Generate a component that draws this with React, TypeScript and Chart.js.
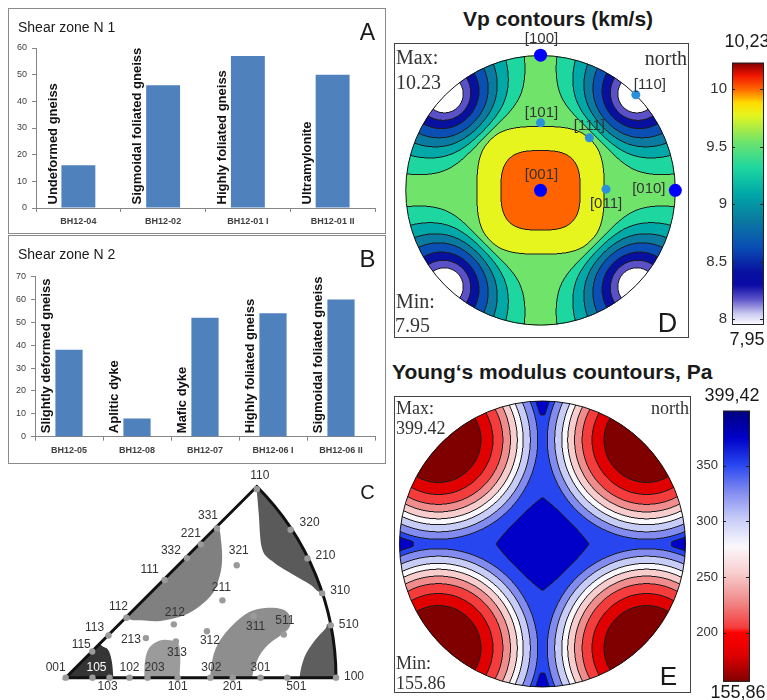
import React, { useEffect, useRef } from 'react';
import { Chart, registerables } from 'chart.js';

Chart.register(...registerables);
Chart.defaults.font.family = '"Liberation Sans", Arial, sans-serif';

// ================= DATA =================
// Panel A : shear zone N 1
const zone1Samples = ['BH12-04', 'BH12-02', 'BH12-01 I', 'BH12-01 II'];
const zone1Rocks = ['Undeformed gneiss', 'Sigmoidal foliated gneiss', 'Highly foliated gneiss', 'Ultramylonite'];
const zone1Values = [16, 46, 57, 50];
const zone1Ticks = [0, 10, 20, 30, 40, 50, 60];

// Panel B : shear zone N 2
const zone2Samples = ['BH12-05', 'BH12-08', 'BH12-07', 'BH12-06 I', 'BH12-06 II'];
const zone2Rocks = ['Slightly deformed gneiss', 'Aplitic dyke', 'Mafic dyke', 'Highly foliated gneiss', 'Sigmoidal foliated gneiss'];
const zone2Values = [38, 8, 52, 54, 60];
const zone2Ticks = [0, 10, 20, 30, 40, 50, 60, 70];

// Panel C : inverse pole figure (Miller indices, stereographic)
const ipfIndices = ['001', '105', '103', '102', '203', '101', '302', '201', '301', '501', '100',
  '115', '113', '112', '111', '332', '221', '331', '110', '320', '210', '310', '510',
  '321', '211', '212', '213', '313', '312', '311', '511'];
// shaded density domains, outlines in projection units (clipped to the triangle)
const ipfBlob001 = [[-0.083, -0.069], [-0.083, 0.185], [0.062, 0.239], [0.124, 0.130], [0.156, 0.106], [0.170, 0.064], [0.176, 0], [0.176, -0.069]];
const ipfBlob110 = [[0.7054, 0.7101], [0.7138, 0.6196], [0.7257, 0.4866], [0.7620, 0.4384], [0.8344, 0.3902], [0.9069, 0.3478], [0.9493, 0.3178], [1.10, 0.28], [1.10, 0.80], [0.69, 0.80]];
const ipfBlob100 = [[0.8649, 0], [0.8830, 0.0761], [0.9192, 0.1366], [0.9612, 0.1848], [0.9793, 0.2065], [1.10, 0.25], [1.10, -0.10], [0.86, -0.10]];
const ipfBlob112 = [[0.2246, 0.2246], [0.2790, 0.2149], [0.3514, 0.2127], [0.4359, 0.2330], [0.4964, 0.2692], [0.5446, 0.3178], [0.5688, 0.3779], [0.5786, 0.4384], [0.5750, 0.5109], [0.5627, 0.5652], [0.50, 0.65], [0.15, 0.30]];
const ipfBlob313 = [[0.2909, 0], [0.2935, 0.0641], [0.3091, 0.1123], [0.3453, 0.1388], [0.3877, 0.1402], [0.4178, 0.1243], [0.4239, 0.0761], [0.4214, 0], [0.42, -0.10], [0.29, -0.10]];
const ipfBlob311 = [[0.5351, 0], [0.5446, 0.0761], [0.5688, 0.1366], [0.6170, 0.1967], [0.6775, 0.2453], [0.7380, 0.2609], [0.7982, 0.2572], [0.8286, 0.2330], [0.8286, 0.1909], [0.7982, 0.1605], [0.75, 0.1243], [0.7138, 0.0761], [0.6895, 0], [0.69, -0.10], [0.535, -0.10]];

// Panel D : Vp contours (km/s)
const vpMin = 7.95;
const vpMax = 10.23;
const vpLevels = [7.95, 8.178, 8.406, 8.634, 8.862, 9.09, 9.318, 9.546, 9.774, 10.002, 10.23];
const vpCornerDelta = [0, 8, 11.5, 15.5, 20, 24.5, 30, 38, 45, 52, 60, 90];
const vpCornerValue = [7.95, 8.178, 8.406, 8.634, 8.862, 9.09, 9.318, 9.546, 9.66, 10.05, 10.4, 11.0];
const vpCenterNorm = [0, 0.294, 0.472, 0.6, 0.8, 1.0, 1.5];
const vpCenterValue = [10.23, 10.002, 9.774, 9.7, 9.67, 9.66, 9.66];
const vpPoleNames = ['[100]', '[010]', '[001]', '[110]', '[101]', '[111]', '[011]'];
const vpPoleR = [1, 1, 0, 1, 0.5, 0.531, 0.486];
const vpPoleAz = [0, 90, 0, 45, 0, 43, 89];
const vpBarTicks = [8, 8.5, 9, 9.5, 10];

// Panel E : Young's modulus contours
const ymMin = 155.86;
const ymMax = 399.42;
const ymLevels = [155.86, 180.22, 204.57, 228.93, 253.28, 277.64, 301.99, 326.35, 350.71, 375.06, 399.42];
const ymCornerDist = [0, 0.298, 0.382, 0.451, 0.504, 0.552, 0.593, 0.643, 0.695, 0.731, 0.777, 1.0, 1.5];
const ymCornerValue = [155.86, 180.22, 204.57, 228.93, 253.28, 277.64, 301.99, 326.35, 350.71, 375.06, 385, 420, 480];
const ymCenterNorm = [0, 0.325, 0.55, 0.75, 0.9, 1.0, 1.5];
const ymCenterValue = [399.42, 375.06, 362, 364, 375.06, 392, 430];
const ymBarTicks = [200, 250, 300, 350];

// ================= STYLE =================
const SANS = '"Liberation Sans", Arial, sans-serif';
const SERIF = '"Liberation Serif", "DejaVu Serif", serif';
const ipfBlobs = [ipfBlob001, ipfBlob110, ipfBlob100, ipfBlob112, ipfBlob313, ipfBlob311];
const ipfBlobColors = ['#353535', '#5a5a5a', '#5e5e5e', '#808080', '#9b9b9b', '#8e8e8e'];
const ipfLabelOffsets = [[-10, -10], [4, -10], [-2, 9], [0, -10], [7, -10], [0, 9], [1, -10], [0, 9], [0, -10], [9, 9], [18, -1],
  [-11, -7], [-14, -8], [-8, -11], [-15, -10], [-16, -7], [-10, -11], [-9, -13], [3, -13], [19, -7], [18, -3], [18, -3], [18, -1],
  [2, -15], [-1, -13], [1, -12], [-15, 2], [1, 11], [3, 9], [2, 11], [1, -14]];
const vpLabelOffsets = [[1, -16], [-26.5, -1.5], [1, -15], [14, -10], [1, -10], [0, -11.5], [0, 15]];

type RGB = [number, number, number];
type Stop = [number, RGB];
const vpColormap: Stop[] = [
  [7.95, [255, 255, 255]], [8.05, [200, 200, 240]], [8.178, [90, 80, 200]], [8.3, [10, 10, 165]],
  [8.406, [8, 16, 160]], [8.634, [10, 80, 180]], [8.862, [10, 122, 160]], [9.09, [0, 168, 168]],
  [9.318, [30, 215, 160]], [9.546, [112, 227, 106]], [9.774, [230, 245, 30]], [9.88, [255, 220, 0]],
  [10.002, [255, 100, 0]], [10.12, [240, 20, 0]], [10.23, [128, 0, 0]],
];
const ymColormap: Stop[] = [
  [155.86, [128, 0, 0]], [180.22, [224, 0, 0]], [200, [255, 0, 0]], [204.57, [245, 60, 60]],
  [228.93, [240, 140, 140]], [253.28, [248, 205, 205]], [277.64, [250, 248, 252]], [301.99, [200, 205, 248]],
  [326.35, [130, 140, 240]], [350.71, [40, 70, 240]], [375.06, [0, 0, 200]], [399.42, [0, 0, 128]],
];

// ================= HELPERS =================
function interp(xs: number[], ys: number[], x: number) {
  if (x <= xs[0]) return ys[0];
  for (let i = 1; i < xs.length; i++) {
    if (x <= xs[i]) return ys[i - 1] + ((ys[i] - ys[i - 1]) * (x - xs[i - 1])) / (xs[i] - xs[i - 1]);
  }
  return ys[ys.length - 1];
}
function smin(a: number, b: number, t: number) {
  return Math.min(a, b) - t * Math.log(1 + Math.exp(-Math.abs(a - b) / t));
}
function sampleCmap(stops: Stop[], v: number): RGB {
  if (v <= stops[0][0]) return stops[0][1];
  for (let i = 1; i < stops.length; i++) {
    if (v <= stops[i][0]) {
      const [v0, c0] = stops[i - 1];
      const [v1, c1] = stops[i];
      const t = (v - v0) / (v1 - v0);
      return [0, 1, 2].map((k) => Math.round(c0[k] + (c1[k] - c0[k]) * t)) as RGB;
    }
  }
  return stops[stops.length - 1][1];
}
function ipfPosition(idx: string) {
  const h = +idx[0], k = +idx[1], l = +idx[2];
  const theta = Math.atan2(Math.hypot(h, k), l);
  const r = Math.tan(theta / 2);
  const phi = Math.atan2(k, h);
  return { x: r * Math.cos(phi), y: r * Math.sin(phi) };
}
function polePosition(r: number, azDeg: number) {
  const a = (azDeg * Math.PI) / 180;
  return { x: r * Math.sin(a), y: r * Math.cos(a) };
}

// Vp field: small-circle distance to <110> minima combined with the [001] maximum
function vpField(u: number, v: number) {
  const r = Math.hypot(u, v);
  const theta = 2 * Math.atan(r);
  const s = Math.sin(theta), c = Math.cos(theta);
  const nx = r > 0 ? (s * u) / r : 0, ny = r > 0 ? (s * v) / r : 0;
  const cosd = Math.min(1, (Math.abs(nx) + Math.abs(ny)) / Math.SQRT2);
  const delta = (Math.acos(cosd) * 180) / Math.PI;
  const corner = interp(vpCornerDelta, vpCornerValue, delta) + 6.24 * Math.pow(c, 5);
  const norm = Math.pow(Math.pow(Math.abs(u), 3) + Math.pow(Math.abs(v), 3), 1 / 3);
  const center = interp(vpCenterNorm, vpCenterValue, norm);
  return smin(center, corner, 0.02);
}
// Young's modulus field
function ymField(u: number, v: number) {
  const au = Math.abs(u), av = Math.abs(v);
  const k = 1.03 / Math.SQRT2;
  const d = Math.hypot(au - k, av - k);
  const corner = interp(ymCornerDist, ymCornerValue, d);
  const norm = Math.pow(Math.pow(au, 1.1) + Math.pow(av, 1.1), 1 / 1.1);
  const center = interp(ymCenterNorm, ymCenterValue, norm);
  return smin(center, corner, 2);
}

function smoothClosed(ctx: CanvasRenderingContext2D, pts: number[][]) {
  const n = pts.length;
  ctx.moveTo(pts[0][0], pts[0][1]);
  for (let i = 0; i < n; i++) {
    const p0 = pts[(i - 1 + n) % n], p1 = pts[i], p2 = pts[(i + 1) % n], p3 = pts[(i + 2) % n];
    ctx.bezierCurveTo(
      p1[0] + (p2[0] - p0[0]) / 6, p1[1] + (p2[1] - p0[1]) / 6,
      p2[0] - (p3[0] - p1[0]) / 6, p2[1] - (p3[1] - p1[1]) / 6,
      p2[0], p2[1]);
  }
  ctx.closePath();
}

// ================= PLUGINS =================
const rockLabelPlugin = (rocks: string[]) => ({
  id: 'rockLabels',
  afterDatasetsDraw(chart: any) {
    const ctx = chart.ctx;
    const meta = chart.getDatasetMeta(0);
    ctx.save();
    ctx.font = `bold 13px ${SANS}`;
    ctx.fillStyle = '#111';
    ctx.textAlign = 'left';
    ctx.textBaseline = 'bottom';
    meta.data.forEach((bar: any, i: number) => {
      const p = bar.getProps(['x', 'width', 'base'], true);
      ctx.save();
      ctx.translate(p.x - p.width / 2 - 2, p.base - 3);
      ctx.rotate(-Math.PI / 2);
      ctx.fillText(rocks[i], 0, 0);
      ctx.restore();
    });
    ctx.restore();
  },
});

const ipfPlugin = {
  id: 'ipf',
  beforeDatasetsDraw(chart: any) {
    const ctx = chart.ctx;
    const xs = chart.scales.x, ys = chart.scales.y;
    const P = (u: number, v: number) => [xs.getPixelForValue(u), ys.getPixelForValue(v)];
    const [ox, oy] = P(0, 0);
    const R = xs.getPixelForValue(1) - ox;
    const tri = () => {
      ctx.beginPath();
      ctx.moveTo(ox, oy);
      ctx.lineTo(ox + R, oy);
      ctx.arc(ox, oy, R, 0, -Math.PI / 4, true);
      ctx.closePath();
    };
    ctx.save();
    tri();
    ctx.clip();
    ipfBlobs.forEach((blob, i) => {
      ctx.fillStyle = ipfBlobColors[i];
      ctx.beginPath();
      smoothClosed(ctx, blob.map(([u, v]) => P(u, v)));
      ctx.fill();
    });
    ctx.restore();
    ctx.save();
    tri();
    ctx.lineWidth = 3;
    ctx.strokeStyle = '#111';
    ctx.lineJoin = 'miter';
    ctx.stroke();
    ctx.restore();
  },
  afterDatasetsDraw(chart: any) {
    const ctx = chart.ctx;
    const meta = chart.getDatasetMeta(0);
    ctx.save();
    ctx.font = `12px ${SANS}`;
    ctx.textAlign = 'center';
    ctx.textBaseline = 'middle';
    meta.data.forEach((pt: any, i: number) => {
      ctx.fillStyle = ipfIndices[i] === '105' ? '#ffffff' : '#333333';
      ctx.fillText(ipfIndices[i], pt.x + ipfLabelOffsets[i][0], pt.y + ipfLabelOffsets[i][1]);
    });
    ctx.restore();
  },
};

function fieldPlugin(field: (u: number, v: number) => number, levels: number[], stops: Stop[], frameTop: number) {
  const colors = levels.slice(0, -1).map((l) => sampleCmap(stops, l));
  const lineCol: RGB = [28, 28, 28];
  return {
    id: 'field',
    beforeDatasetsDraw(chart: any) {
      const ctx = chart.ctx;
      const xs = chart.scales.x, ys = chart.scales.y;
      const cx = xs.getPixelForValue(0), cy = ys.getPixelForValue(0);
      const R = xs.getPixelForValue(1) - cx;
      const ss = 2;
      const x0 = Math.floor(cx - R) - 2, y0 = Math.floor(cy - R) - 2;
      const W = Math.ceil(2 * R) + 5;
      const N = W * ss;
      const band = new Int8Array(N * N).fill(-1);
      for (let j = 0; j < N; j++) {
        const v = ys.getValueForPixel(y0 + (j + 0.5) / ss);
        for (let i = 0; i < N; i++) {
          const u = xs.getValueForPixel(x0 + (i + 0.5) / ss);
          if (u * u + v * v > 1) continue;
          const val = field(u, v);
          let b = 0;
          while (b < levels.length - 2 && val >= levels[b + 1]) b++;
          band[j * N + i] = b;
        }
      }
      const off = document.createElement('canvas');
      off.width = W;
      off.height = W;
      const octx = off.getContext('2d')!;
      const img = octx.createImageData(W, W);
      const nb = [[1, 0], [-1, 0], [0, 1], [0, -1]];
      for (let J = 0; J < W; J++) {
        for (let I = 0; I < W; I++) {
          let r = 0, g = 0, b = 0, n = 0;
          for (let dj = 0; dj < ss; dj++) {
            for (let di = 0; di < ss; di++) {
              const i = I * ss + di, j = J * ss + dj;
              const k = band[j * N + i];
              if (k < 0) continue;
              let edge = false;
              for (let q = 0; q < 4; q++) {
                const ii = i + nb[q][0], jj = j + nb[q][1];
                if (ii < 0 || jj < 0 || ii >= N || jj >= N) continue;
                const kk = band[jj * N + ii];
                if (kk >= 0 && kk !== k) { edge = true; break; }
              }
              const col = edge ? lineCol : colors[k];
              r += col[0]; g += col[1]; b += col[2]; n++;
            }
          }
          if (n === 0) continue;
          const p = (J * W + I) * 4;
          img.data[p] = r / n;
          img.data[p + 1] = g / n;
          img.data[p + 2] = b / n;
          img.data[p + 3] = (255 * n) / (ss * ss);
        }
      }
      octx.putImageData(img, 0, 0);
      ctx.drawImage(off, x0, y0);
      ctx.save();
      ctx.beginPath();
      ctx.arc(cx, cy, R, 0, Math.PI * 2);
      ctx.lineWidth = 1;
      ctx.strokeStyle = '#111';
      ctx.stroke();
      ctx.strokeStyle = '#444';
      ctx.strokeRect(0.5, frameTop + 0.5, chart.width - 1, chart.height - frameTop - 1);
      ctx.restore();
    },
  };
}

const poleLabelPlugin = {
  id: 'poleLabels',
  afterDatasetsDraw(chart: any) {
    const ctx = chart.ctx;
    const pts = [...chart.getDatasetMeta(0).data, ...chart.getDatasetMeta(1).data];
    ctx.save();
    ctx.font = `15px ${SANS}`;
    ctx.fillStyle = '#333';
    ctx.textAlign = 'center';
    ctx.textBaseline = 'middle';
    pts.forEach((p: any, i: number) => {
      ctx.fillText(vpPoleNames[i], p.x + vpLabelOffsets[i][0], p.y + vpLabelOffsets[i][1]);
    });
    ctx.restore();
  },
};

function gradientPlugin(stops: Stop[], min: number, max: number, ticks: number[]) {
  return {
    id: 'gradientBar',
    beforeDatasetsDraw(chart: any) {
      const ctx = chart.ctx;
      const a = chart.chartArea;
      const ys = chart.scales.y;
      const grad = ctx.createLinearGradient(0, a.bottom, 0, a.top);
      stops.forEach(([v, c]) => grad.addColorStop((v - min) / (max - min), `rgb(${c[0]},${c[1]},${c[2]})`));
      ctx.save();
      ctx.fillStyle = grad;
      ctx.fillRect(a.left, a.top, a.right - a.left, a.bottom - a.top);
      ctx.strokeStyle = '#222';
      ctx.lineWidth = 1;
      ctx.strokeRect(a.left + 0.5, a.top + 0.5, a.right - a.left - 1, a.bottom - a.top - 1);
      ticks.forEach((t) => {
        const y = Math.round(ys.getPixelForValue(t)) + 0.5;
        ctx.beginPath();
        ctx.moveTo(a.right - 4, y);
        ctx.lineTo(a.right, y);
        ctx.moveTo(a.left, y);
        ctx.lineTo(a.left + 3, y);
        ctx.stroke();
      });
      ctx.restore();
    },
  };
}

// ================= CONFIGS =================
function barConfig(labels: string[], values: number[], rocks: string[], ticks: number[], padTop: number, yWidth: number, xHeight: number) {
  return {
    type: 'bar',
    data: {
      labels,
      datasets: [{ data: values, backgroundColor: '#4f81bd', barPercentage: 0.4, categoryPercentage: 1 }],
    },
    options: {
      responsive: false,
      animation: false,
      devicePixelRatio: 1,
      layout: { padding: { top: padTop, right: 10, left: 0, bottom: 0 } },
      plugins: { legend: { display: false }, tooltip: { enabled: false } },
      scales: {
        x: {
          grid: { offset: true, drawOnChartArea: false, tickLength: 4, color: '#868686' },
          border: { color: '#868686' },
          ticks: { font: { size: 9, weight: 'bold' }, color: '#404040', padding: 4, maxRotation: 0, autoSkip: false },
          afterFit: (s: any) => { s.height = xHeight; s.paddingLeft = 0; s.paddingRight = 0; },
        },
        y: {
          min: ticks[0],
          max: ticks[ticks.length - 1],
          afterBuildTicks: (s: any) => { s.ticks = ticks.map((v) => ({ value: v })); },
          grid: { drawOnChartArea: false, tickLength: 4, color: '#868686' },
          border: { color: '#868686' },
          ticks: { font: { size: 9 }, color: '#404040', padding: 5 },
          afterFit: (s: any) => { s.width = yWidth; s.paddingTop = 0; s.paddingBottom = 0; },
        },
      },
    },
    plugins: [rockLabelPlugin(rocks)],
  };
}

function ipfConfig() {
  return {
    type: 'scatter',
    data: {
      datasets: [{
        data: ipfIndices.map(ipfPosition),
        pointRadius: 3.2,
        pointBackgroundColor: '#9a9a9a',
        pointBorderWidth: 0,
      }],
    },
    options: {
      responsive: false,
      animation: false,
      devicePixelRatio: 1,
      layout: { padding: 0 },
      plugins: { legend: { display: false }, tooltip: { enabled: false } },
      scales: {
        x: { type: 'linear', display: false, min: -0.22826, max: 1.17754 },
        y: { type: 'linear', display: false, min: -0.06884, max: 0.78261 },
      },
    },
    plugins: [ipfPlugin],
  };
}

function vpConfig() {
  const pts = vpPoleR.map((r, i) => polePosition(r, vpPoleAz[i]));
  return {
    type: 'scatter',
    data: {
      datasets: [
        { data: pts.slice(0, 3), pointRadius: 6.5, pointBackgroundColor: '#0000ff', pointBorderWidth: 0 },
        { data: pts.slice(3), pointRadius: 4.5, pointBackgroundColor: '#2a90dc', pointBorderWidth: 0 },
      ],
    },
    options: {
      responsive: false,
      animation: false,
      devicePixelRatio: 1,
      layout: { padding: 0 },
      plugins: { legend: { display: false }, tooltip: { enabled: false } },
      scales: {
        x: { type: 'linear', display: false, min: -1.039, max: 1.0532 },
        y: { type: 'linear', display: false, min: -1.0447, max: 1.1752 },
      },
    },
    plugins: [fieldPlugin(vpField, vpLevels, vpColormap, 18), poleLabelPlugin],
  };
}

function ymConfig() {
  return {
    type: 'scatter',
    data: { datasets: [] },
    options: {
      responsive: false,
      animation: false,
      devicePixelRatio: 1,
      layout: { padding: 0 },
      plugins: { legend: { display: false }, tooltip: { enabled: false } },
      scales: {
        x: { type: 'linear', display: false, min: -1.0385, max: 1.0385 },
        y: { type: 'linear', display: false, min: -1.042, max: 1.035 },
      },
    },
    plugins: [fieldPlugin(ymField, ymLevels, ymColormap, 0)],
  };
}

function colorbarConfig(min: number, max: number, ticks: number[], stops: Stop[], fontSize: number, yWidth: number, padding: any) {
  return {
    type: 'scatter',
    data: { datasets: [] },
    options: {
      responsive: false,
      animation: false,
      devicePixelRatio: 1,
      layout: { padding },
      plugins: { legend: { display: false }, tooltip: { enabled: false } },
      scales: {
        x: { type: 'linear', display: false, min: 0, max: 1 },
        y: {
          type: 'linear',
          position: 'left',
          min,
          max,
          afterBuildTicks: (s: any) => { s.ticks = ticks.map((v) => ({ value: v })); },
          grid: { drawOnChartArea: false, drawTicks: false },
          border: { display: false },
          ticks: { font: { size: fontSize }, color: '#333', padding: 5, callback: (v: any) => String(v) },
          afterFit: (s: any) => { s.width = yWidth; s.paddingTop = 0; s.paddingBottom = 0; },
        },
      },
    },
    plugins: [gradientPlugin(stops, min, max, ticks)],
  };
}

// ================= COMPONENTS =================
function ChartCanvas({ left, top, width, height, make }: { left: number; top: number; width: number; height: number; make: () => any }) {
  const ref = useRef<HTMLCanvasElement>(null);
  useEffect(() => {
    const chart = new Chart(ref.current as HTMLCanvasElement, make());
    return () => chart.destroy();
  }, []);
  return (
    <canvas
      ref={ref}
      width={width}
      height={height}
      style={{ position: 'absolute', left, top, width, height }}
    />
  );
}

function Txt({ x, y, size, children, align = 'left', weight = 400, family = SANS, color = '#1a1a1a' }: any) {
  const tx = align === 'left' ? '0' : align === 'center' ? '-50%' : '-100%';
  return (
    <div
      style={{
        position: 'absolute', left: x, top: y, transform: `translate(${tx}, -50%)`,
        fontSize: size, fontWeight: weight, fontFamily: family, color, lineHeight: 1, whiteSpace: 'nowrap',
      }}
    >
      {children}
    </div>
  );
}

export default function App() {
  return (
    <div style={{ position: 'absolute', left: 0, top: 0, width: 767, height: 700, background: '#fff', overflow: 'hidden', fontFamily: SANS }}>
      {/* Panel A */}
      <div style={{ position: 'absolute', left: 8, top: 8, width: 378, height: 226, border: '1px solid #8a8a8a', boxSizing: 'border-box' }} />
      <ChartCanvas left={8} top={8} width={377} height={225}
        make={() => barConfig(zone1Samples, zone1Values, zone1Rocks, zone1Ticks, 40, 28, 25)} />
      <Txt x={18} y={26.5} size={14}>Shear zone N 1</Txt>
      <Txt x={367.5} y={31.5} size={23} align="center">A</Txt>

      {/* Panel B */}
      <div style={{ position: 'absolute', left: 8, top: 235, width: 378, height: 229, border: '1px solid #8a8a8a', boxSizing: 'border-box' }} />
      <ChartCanvas left={8} top={235} width={377} height={228}
        make={() => barConfig(zone2Samples, zone2Values, zone2Rocks, zone2Ticks, 41.7, 27, 26.3)} />
      <Txt x={18} y={254} size={14}>Shear zone N 2</Txt>
      <Txt x={367.5} y={259} size={24} align="center">B</Txt>

      {/* Panel C */}
      <ChartCanvas left={0} top={465} width={388} height={235} make={ipfConfig} />
      <Txt x={367.5} y={492} size={20} align="center">C</Txt>

      {/* Panel D */}
      <Txt x={558} y={18} size={21} weight={700} align="center">Vp contours (km/s)</Txt>
      <ChartCanvas left={394} top={25} width={295} height={313} make={vpConfig} />
      <Txt x={396} y={57} size={20} family={SERIF} color="#333">Max:</Txt>
      <Txt x={396} y={82} size={20} family={SERIF} color="#333">10.23</Txt>
      <Txt x={687} y={58} size={20} family={SERIF} color="#333" align="right">north</Txt>
      <Txt x={396} y={301} size={20} family={SERIF} color="#333">Min:</Txt>
      <Txt x={395} y={325} size={20} family={SERIF} color="#333">7.95</Txt>
      <Txt x={667.5} y={323} size={27} align="center">D</Txt>
      <ChartCanvas left={695} top={55} width={72} height={280}
        make={() => colorbarConfig(vpMin, vpMax, vpBarTicks, vpColormap, 15, 37, { top: 7.7, bottom: 10, left: 0, right: 3 })} />
      <Txt x={747} y={41} size={18} align="center">10,23</Txt>
      <Txt x={747} y={339} size={18} align="center">7,95</Txt>

      {/* Panel E */}
      <Txt x={392} y={370.5} size={21} weight={700}>Young‘s modulus countours, Pa</Txt>
      <ChartCanvas left={394} top={396} width={297} height={297} make={ymConfig} />
      <Txt x={396} y={407.5} size={18} family={SERIF} color="#333">Max:</Txt>
      <Txt x={396} y={427.5} size={18} family={SERIF} color="#333">399.42</Txt>
      <Txt x={689} y={407.5} size={18} family={SERIF} color="#333" align="right">north</Txt>
      <Txt x={396} y={663} size={18} family={SERIF} color="#333">Min:</Txt>
      <Txt x={396} y={682.5} size={18} family={SERIF} color="#333">155.86</Txt>
      <Txt x={668.5} y={676} size={26} align="center">E</Txt>
      <ChartCanvas left={690} top={400} width={65} height={295}
        make={() => colorbarConfig(ymMin, ymMax, ymBarTicks, ymColormap, 13, 33, { top: 10.7, bottom: 13.2, left: 0, right: 5 })} />
      <Txt x={732} y={395} size={18} align="center">399,42</Txt>
      <Txt x={738} y={692} size={18} align="center">155,86</Txt>
    </div>
  );
}
